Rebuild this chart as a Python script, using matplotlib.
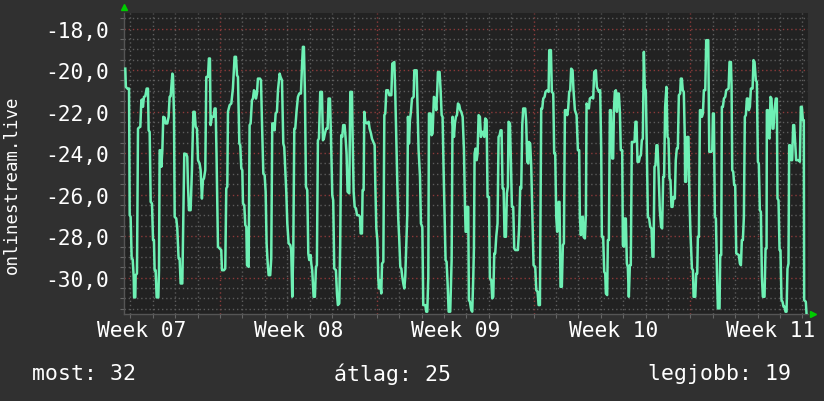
import matplotlib
matplotlib.use("Agg")
import matplotlib.pyplot as plt
from matplotlib.ticker import FixedLocator, MultipleLocator
from matplotlib.transforms import blended_transform_factory

# hours since the left edge of the graph, and the (negated) rank at that time
hours = [
    1.4, 2.0, 3.6, 5.0, 5.4, 6.1, 7.1, 8.2, 9.3, 10.4, 10.8, 12.1, 12.5, 13.9, 15.0,
    16.1, 17.5, 18.6, 19.3, 20.3, 21.4, 22.8, 24.3, 25.7, 26.4, 27.5, 28.6, 30.0, 31.1,
    32.1, 32.8, 33.9, 35.0, 36.8, 37.5, 38.2, 38.9, 40.0, 41.1, 42.1, 43.6, 44.6, 46.4,
    47.8, 48.9, 50.0, 51.8, 52.5, 53.6, 54.3, 56.0, 57.1, 58.5, 59.6, 60.7, 62.5, 63.5,
    64.6, 66.8, 67.8, 68.5, 69.6, 71.4, 72.8, 74.3, 75.7, 76.8, 78.2, 79.3, 81.0, 82.1,
    83.5, 84.6, 85.7, 87.1, 88.2, 90.0, 91.0, 92.1, 92.8, 94.2, 96.0, 97.1, 98.2, 99.2,
    100.7, 102.5, 104.2, 105.0, 107.1, 108.5, 109.6, 110.7, 111.4, 113.2, 115.0, 116.7,
    118.5, 120.0,
    121.1, 122.1, 123.6, 124.6, 125.7, 126.8, 127.5, 128.9, 130.0, 131.1, 131.8, 133.6,
    134.6, 135.7, 137.1, 138.2, 139.3, 140.3, 141.4, 142.5, 143.5, 145.7, 146.8, 147.8,
    149.3, 150.7, 151.8, 152.8, 153.9, 155.0, 156.7, 157.8, 158.9, 160.3, 161.4, 162.5,
    163.9, 165.0, 166.8, 167.8, 169.3, 170.7, 171.7, 172.8, 173.9, 175.0, 176.4, 178.2,
    179.2, 180.3, 181.4, 182.5, 183.5, 185.0, 186.4, 187.8, 189.6, 190.7, 191.7, 192.8,
    193.9, 195.0, 196.4, 197.5, 198.5, 200.0, 200.7, 201.7, 203.2, 204.6, 205.7, 206.7,
    207.8, 208.9, 210.3, 212.1, 213.2, 214.2, 215.3, 216.7, 218.2, 219.2, 220.7, 221.7,
    223.2, 224.2, 225.3, 227.1, 228.2, 229.2, 230.7, 231.7, 232.8, 233.9, 234.9, 236.4,
    237.4, 238.5, 239.6, 241.4,
    242.5, 244.3, 245.0, 246.1, 247.2, 248.6, 249.7, 251.5, 252.9, 253.6, 255.0, 255.7,
    256.8, 257.5, 258.6, 260.4, 262.2, 263.2, 264.7, 265.7, 267.2, 268.6, 269.3, 270.4,
    271.5, 272.5, 273.2, 274.3, 275.7, 276.5, 277.9, 279.0, 280.0, 281.1, 282.9, 284.3,
    286.5, 287.5, 289.7, 290.7, 291.8, 292.9, 293.9, 295.0, 296.1, 297.2, 298.2, 299.3,
    300.4, 301.4, 302.5, 303.6, 304.3, 305.4, 306.4, 307.5, 308.6, 310.4, 311.1, 313.6,
    314.7, 315.7, 317.2, 318.2, 319.7, 320.7, 322.9, 323.9, 325.0, 326.1, 326.8, 328.6,
    329.6, 330.7, 332.1, 333.6, 334.6, 335.7, 336.4, 338.2, 339.3, 340.4, 341.4, 342.5,
    343.6, 344.6, 345.7, 346.8, 347.9, 349.6, 351.1, 352.1, 353.6, 354.6, 355.7, 356.8,
    357.9, 359.3, 360.3, 361.4, 362.9, 364.3,
    365.4, 366.1, 367.1, 367.9, 368.9, 369.6, 370.7, 372.1, 373.2, 374.3, 375.0, 375.7,
    376.8, 377.9, 378.9, 380.0, 381.4, 382.5, 383.6, 385.0, 386.1, 387.1, 388.6, 389.6,
    391.1, 392.1, 393.6, 394.6, 395.7, 396.8, 397.8, 398.9, 400.3, 401.4, 402.5, 403.6,
    404.6, 405.7, 406.8, 407.8, 409.3, 410.3, 411.4, 412.1, 413.6, 414.6, 415.7, 417.1,
    418.2, 419.3, 422.1, 423.5, 424.6, 425.7, 426.8, 427.8, 430.0, 431.0, 432.1, 433.2,
    433.9, 435.3, 436.4, 437.8, 438.9, 440.7, 441.8, 443.2, 444.3, 445.7, 447.1, 448.2,
    449.3, 450.7, 451.7, 453.5, 455.0, 455.7, 457.5, 458.5, 460.0, 461.0, 462.1, 463.2,
    464.2, 465.7, 466.7, 467.8, 469.2, 470.3, 471.4, 472.5, 473.9, 475.0, 476.0, 477.1,
    478.2, 479.2, 480.7, 481.7, 483.2, 485.0, 486.4,
    487.8, 488.5, 489.6, 490.7, 491.7, 492.5, 493.9, 495.0, 495.7, 497.1, 498.2, 499.2,
    501.7, 502.8, 503.9, 505.7, 506.7, 508.9, 510.3, 511.4, 512.1, 513.5, 514.6, 515.7,
    516.4, 517.8, 518.5, 519.6, 520.7, 521.7, 523.2, 524.2, 525.0, 526.0, 527.1, 528.2,
    529.2, 530.3, 531.4, 532.4, 533.9, 534.6, 535.7, 536.4, 537.8, 538.9, 539.9, 541.0,
    542.1, 543.1, 544.2, 547.1, 548.1, 549.2, 550.3, 551.7, 552.8, 553.9, 554.9, 556.0,
    557.1, 558.1, 559.2, 560.3, 561.4, 562.8, 563.9, 565.3, 566.4, 567.4, 568.5, 569.6,
    570.6, 571.7, 572.8, 574.2, 575.6, 576.7, 577.8, 578.8, 579.9, 581.3, 582.4, 583.5,
    584.6, 585.6, 586.7, 587.8, 588.8, 590.3, 591.3, 592.4, 593.5, 594.6, 596.0, 596.7,
    597.8, 598.8, 599.9, 601.0, 601.3, 602.4, 603.5, 604.9, 606.0, 607.0,
    608.6, 609.7, 610.4, 612.2, 613.2, 614.3, 615.0, 616.1, 617.2, 618.2, 619.3, 620.4,
    621.4, 622.9, 623.9, 626.1, 627.2, 629.3, 630.4, 631.1, 632.1, 633.2, 634.3, 635.4,
    636.4, 638.2, 638.9, 640.0, 640.7, 641.8, 642.9, 644.3, 645.4, 647.9, 648.9, 650.4,
    651.1, 651.8, 652.9, 653.9, 655.0, 656.1, 658.9, 660.0, 661.1, 662.1, 663.2, 664.3,
    665.3, 666.4, 667.5, 668.6, 669.6, 670.7, 671.8, 673.6, 674.6, 675.7, 677.1, 678.2,
    679.3, 680.3, 681.4, 682.5, 683.6, 684.6, 686.4, 687.5, 688.6, 688.9, 690.0, 690.7,
    691.8, 692.8, 693.9, 695.0, 696.0, 697.1, 698.5, 699.6, 700.3, 701.4, 702.5, 703.5,
    704.6, 705.7, 706.8, 707.8, 708.9, 710.0, 711.0, 712.1, 712.8, 713.9, 715.0, 716.0,
    717.1, 718.2, 719.3, 720.3, 723.2, 724.3, 725.3, 726.4, 727.5, 728.5, 728.9, 730.7,
    731.4,
]

rank = [
    -19.93, -20.81, -20.89, -20.92, -20.89, -26.99, -27.07, -29.07, -29.12, -29.96, -30.95, -30.95, -29.88, -29.80, -22.82,
    -22.77, -22.73, -21.45, -21.42, -21.77, -21.29, -21.26, -20.89, -20.89, -22.90, -22.98, -26.35, -26.43, -28.19,
    -28.19, -29.64, -29.64, -30.95, -30.95, -29.64, -23.86, -23.86, -24.66, -23.86, -22.25, -22.29, -22.57, -22.57,
    -22.25, -21.29, -21.26, -20.17, -20.25, -22.25, -27.07, -27.15, -27.63, -29.07, -29.07, -30.28, -30.28, -27.39,
    -24.02, -24.05, -24.18, -25.46, -26.75, -26.75, -24.82, -22.01, -22.01, -22.73, -22.82, -24.34, -24.50, -24.82,
    -26.19, -25.30, -25.22, -24.82, -20.33, -20.33, -19.44, -19.44, -22.65, -22.25, -22.25, -21.85, -21.85, -24.18,
    -28.51, -28.59, -28.67, -29.64, -29.64, -29.56, -25.70, -25.62, -22.01, -21.69, -21.61, -20.89,
    -19.36, -19.36,
    -20.25, -20.33, -23.54, -23.62, -24.74, -24.82, -26.43, -26.51, -27.47, -27.55, -29.40, -29.48,
    -22.65, -22.57, -21.45, -21.37, -20.97, -21.05, -21.37, -21.13, -20.41, -20.41, -20.49, -22.41,
    -24.98, -25.06, -25.86, -28.35, -29.24, -29.88, -29.88, -29.07, -22.57, -22.57, -22.90, -22.09,
    -22.01, -20.97, -20.17, -20.33, -20.49, -23.54, -23.70, -24.82, -25.86, -27.39, -28.35, -28.43,
    -28.67, -30.92, -28.67, -22.82, -22.82, -21.93, -21.29, -21.13, -21.13, -19.85, -18.88, -18.88,
    -21.13, -25.62, -25.78, -28.83, -29.15, -28.91, -29.32, -29.64, -30.92, -30.92, -29.48, -29.40,
    -23.38, -23.30, -21.05, -21.05, -23.38, -23.30, -23.06, -22.82, -22.82, -21.37, -21.37, -22.98,
    -26.03, -26.27, -29.56, -29.64, -30.76, -31.32, -31.24, -28.35, -23.14, -23.22, -22.65, -22.65,
    -23.22, -24.02, -25.86, -25.94,
    -21.05, -21.05, -23.22, -25.86, -26.59, -26.67, -26.99, -26.99, -27.07, -27.87, -27.87, -25.78,
    -25.78, -22.01, -22.49, -22.57, -22.49, -22.82, -23.06, -23.30, -23.46, -23.62, -25.46, -27.63,
    -28.19, -30.04, -30.52, -30.12, -30.76, -29.32, -29.24, -22.17, -22.09, -20.97, -20.97, -21.21,
    -21.21, -19.69, -19.61, -21.13, -23.38, -25.46, -27.15, -28.19, -29.48, -29.56, -29.96, -30.28,
    -30.52, -29.96, -28.35, -26.91, -22.25, -23.54, -22.41, -22.01, -21.37, -21.29, -20.01, -20.01,
    -21.93, -23.86, -25.14, -27.39, -27.55, -31.32, -31.32, -31.64, -31.64, -29.96, -22.09, -22.09,
    -23.14, -23.06, -21.29, -21.37, -21.93, -20.97, -20.09, -20.09, -20.97, -22.17, -22.25, -24.82,
    -27.07, -29.15, -29.24, -30.28, -31.64, -31.64, -29.15, -22.25, -23.22, -22.57, -22.25, -22.17,
    -21.61, -21.69, -21.93, -22.01, -22.25, -23.86,
    -26.59, -27.79, -27.79, -26.59, -26.59, -31.08, -31.16, -31.56, -31.64, -29.96, -28.59, -24.02,
    -23.78, -24.34, -24.02, -22.17, -22.25, -23.22, -22.98, -22.98, -23.22, -22.33, -22.41, -26.11,
    -26.11, -30.04, -30.12, -31.00, -30.92, -28.83, -28.83, -28.03, -27.39, -23.22, -23.14, -22.90,
    -22.90, -25.70, -25.70, -28.03, -28.03, -25.94, -25.62, -22.49, -22.57, -24.34, -26.59, -26.59,
    -28.59, -28.67, -28.67, -27.55, -25.62, -25.70, -22.65, -21.85, -21.85, -22.49, -24.42, -24.50,
    -23.46, -23.54, -24.66, -27.39, -29.40, -29.48, -30.60, -30.68, -31.32, -31.32, -21.85, -21.85,
    -21.37, -21.29, -21.05, -20.97, -21.05, -19.04, -19.04, -21.05, -21.13, -24.02, -24.02, -27.07,
    -27.79, -26.35, -26.35, -30.44, -30.44, -28.43, -28.35, -21.93, -21.93, -22.17, -21.85, -21.05,
    -20.97, -19.93, -20.01, -20.97, -21.93, -22.17, -23.86,
    -23.86, -27.07, -27.95, -27.07, -27.07, -28.03, -28.11, -26.91, -21.61, -21.77, -21.85, -21.37,
    -21.29, -21.37, -20.09, -20.01, -20.81, -21.05, -20.97, -23.86, -28.03, -28.03, -29.72, -29.80,
    -30.76, -30.84, -28.19, -28.19, -21.93, -21.93, -24.26, -24.26, -21.93, -21.05, -20.97, -22.01,
    -21.13, -21.13, -22.01, -23.86, -23.86, -28.43, -28.51, -27.15, -27.15, -29.32, -29.48, -30.92,
    -29.40, -29.40, -23.46, -23.46, -22.49, -22.49, -24.42, -24.42, -24.18, -24.10, -23.38, -23.30,
    -19.12, -20.97, -20.97, -23.86, -27.07, -27.15, -27.55, -27.63, -28.99, -28.99, -24.66, -24.58,
    -23.62, -23.62, -24.82, -26.75, -27.55, -27.63, -25.14, -25.14, -21.77, -20.81, -23.22, -23.30,
    -25.22, -25.30, -26.59, -26.59, -26.11, -26.19, -24.34, -23.78, -23.78, -21.21, -21.13, -20.41,
    -20.41, -20.97, -21.05, -23.30, -25.38, -25.38, -23.22, -23.22, -26.27, -27.79,
    -29.56, -29.64, -30.92, -30.92, -29.80, -29.80, -28.03, -28.03, -21.93, -21.93, -22.25, -22.09,
    -20.97, -20.97, -18.56, -18.56, -23.94, -23.94, -23.86, -22.09, -22.09, -27.07, -27.15, -29.64,
    -31.48, -31.48, -28.91, -28.91, -21.77, -21.77, -21.37, -21.29, -20.97, -20.89, -19.61, -19.61,
    -20.81, -24.82, -24.90, -25.54, -25.54, -28.83, -28.91, -29.32, -29.40, -28.19, -28.19, -27.07,
    -22.25, -22.17, -21.37, -21.37, -21.93, -21.77, -20.89, -20.89, -19.52, -19.61, -20.49, -20.57,
    -24.42, -24.50, -26.75, -26.83, -29.96, -30.92, -30.92, -28.59, -28.59, -21.93, -21.93, -23.22,
    -23.30, -21.29, -21.37, -22.82, -22.82, -21.93, -21.37, -21.37, -26.19, -26.27, -28.67, -28.67,
    -31.08, -31.16, -31.40, -31.40, -31.64, -31.64, -29.56, -29.32, -23.62, -23.62, -24.34, -24.34,
    -22.65, -22.65, -23.54, -24.34, -24.34, -24.42, -21.77, -21.77, -22.41, -22.41, -31.08, -31.16,
    -31.72,
]

week_labels = ["Week 07", "Week 08", "Week 09", "Week 10", "Week 11"]
y_ticks = [-30, -28, -26, -24, -22, -20, -18]
y_label = "onlinestream.live"
current, average, best = 32, 25, 19

first_monday = 102.9   # hour of the first week line
span = 733.0

plt.rcParams['font.family'] = ['DejaVu Sans Mono']

fig = plt.figure(figsize=(8.24, 4.02), dpi=100)
fig.patch.set_facecolor('#303030')
ax = fig.add_axes([124 / 824, 87 / 402, 684 / 824, 301 / 402])
ax.set_facecolor('#222222')

ax.plot(hours, rank, color='#6ef0b4', lw=1.8, zorder=3)

ax.set_xlim(0, span)
ax.set_ylim(-31.75, -17.25)

# grid: days / half units in grey, weeks / two units in red
day_lines = [first_monday + 24 * k for k in range(-4, 27)]
week_lines = [first_monday + 168 * k for k in range(0, 4)]
ax.xaxis.set_major_locator(FixedLocator(week_lines))
ax.xaxis.set_minor_locator(FixedLocator(day_lines))
ax.yaxis.set_major_locator(FixedLocator(y_ticks))
ax.yaxis.set_minor_locator(MultipleLocator(0.5))
ax.grid(which='minor', color='#5c5c5c', ls=(0, (1, 2)), lw=1.0, zorder=1)
ax.grid(which='major', color='#8c3a3a', ls=(0, (1, 2)), lw=1.0, zorder=2)
ax.set_axisbelow(True)

ax.set_xticklabels([])
ax.set_yticklabels(["{:.1f}".format(v).replace(".", ",") for v in y_ticks])
ax.tick_params(which='both', direction='out', length=3, width=0.8, color='#666666')
ax.tick_params(axis='y', which='major', labelsize=15.3, labelcolor='white', pad=8)

for s in ['top', 'right']:
    ax.spines[s].set_visible(False)
for s in ['bottom', 'left']:
    ax.spines[s].set_color('#555555')
    ax.spines[s].set_linewidth(1)

tr = blended_transform_factory(ax.transData, ax.transAxes)
for k, lab in enumerate(week_labels):
    ax.text(first_monday - 84 + 168.5 * k, -0.053, lab, transform=tr, ha='center', va='center',
            fontsize=15.3, color='white')

# rrdtool style arrows at the ends of the axes
ax.plot([0], [1.02], marker='^', color='#00cc00', ms=4, transform=ax.transAxes, clip_on=False)
ax.plot([1.007], [0], marker='>', color='#00cc00', ms=4, transform=ax.transAxes, clip_on=False)

fig.text(12 / 824, 1 - 185 / 402, y_label, rotation=90, ha='center', va='center',
         fontsize=12.5, color='white')

fig.text(32 / 824, 1 - 374 / 402, "most: {}".format(current), ha='left', va='center',
         fontsize=15.5, color='white')
fig.text(392 / 824, 1 - 374 / 402, "átlag: {}".format(average), ha='center', va='center',
         fontsize=15.5, color='white')
fig.text(791 / 824, 1 - 374 / 402, "legjobb: {}".format(best), ha='right', va='center',
         fontsize=15.5, color='white')

fig.savefig("out.png", dpi=100, facecolor=fig.get_facecolor())
